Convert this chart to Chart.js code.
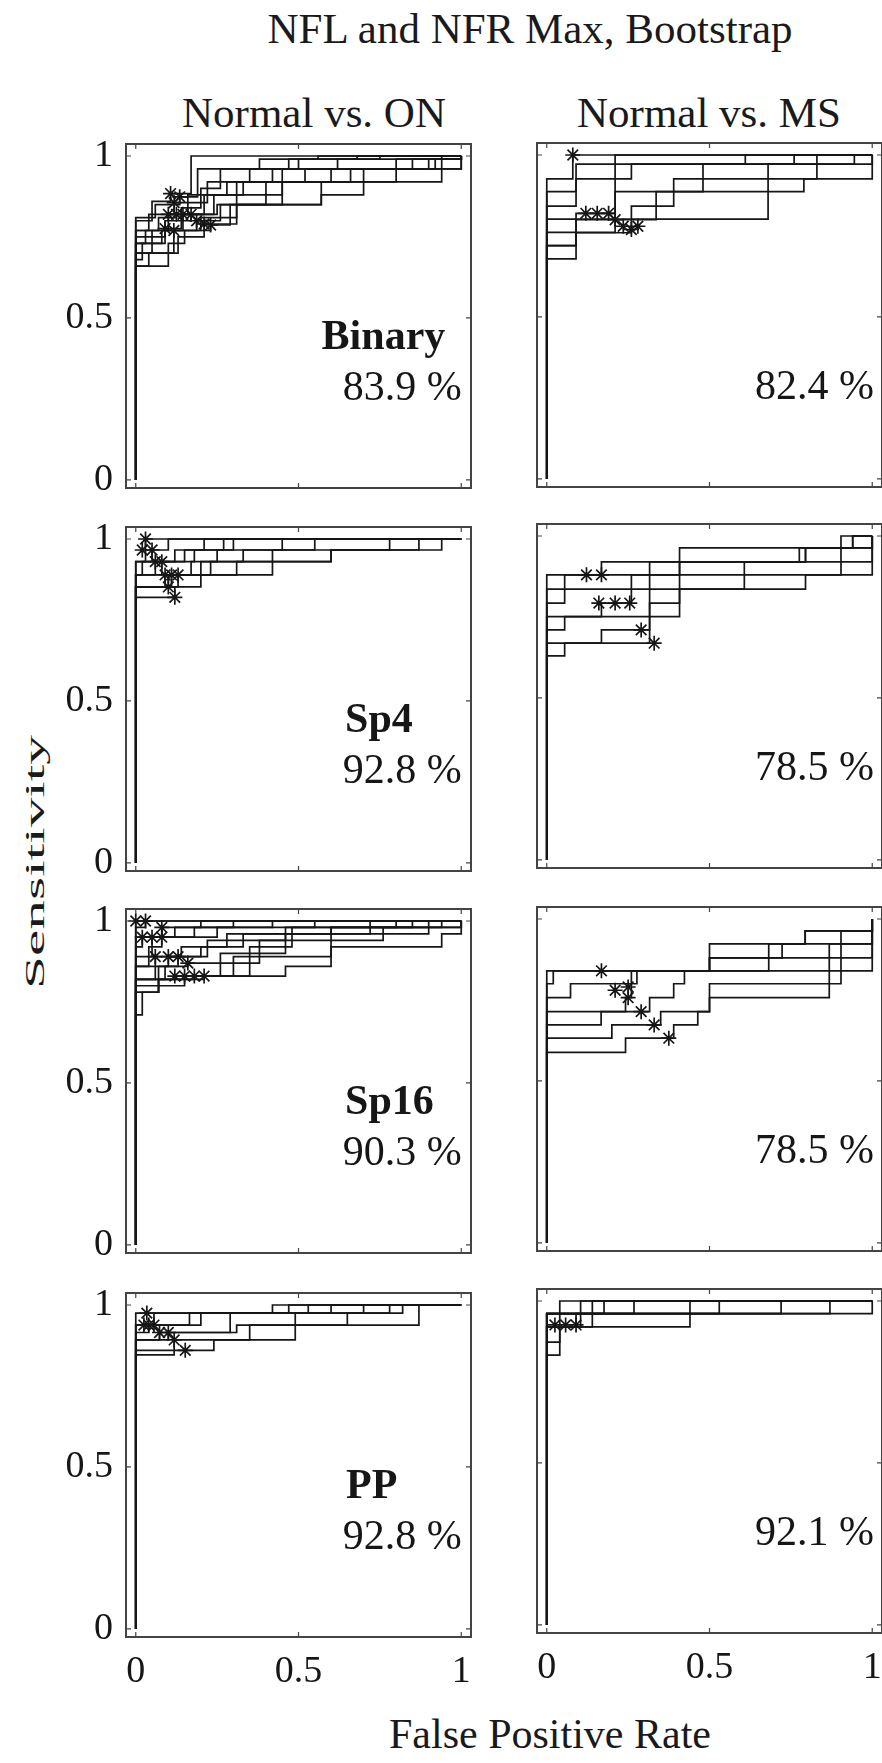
<!DOCTYPE html>
<html>
<head>
<meta charset="utf-8">
<script src="https://cdn.jsdelivr.net/npm/chart.js@4.4.1/dist/chart.umd.min.js"></script>
<style>
  html, body { margin: 0; padding: 0; background: #fff; width: 882px; height: 1763px; overflow: hidden; position: relative; }
  .txt { position: absolute; font-family: 'Liberation Serif', 'Times New Roman', serif; color: #1a1a1a; white-space: nowrap; line-height: 1; }
  canvas { position: absolute; }
</style>
</head>
<body>
<div class="txt" id="figTitle"></div>
<div class="txt" id="colTitle0"></div>
<div class="txt" id="colTitle1"></div>
<div class="txt" id="xLabel"></div>
<div class="txt" id="yLabel"></div>
<script>
// ---- tick values and labels ----
const xTickValues = [0, 0.5, 1];
const yTickValues = [0, 0.5, 1];
const figureTitle = 'NFL and NFR Max, Bootstrap';
const columnTitles = ['Normal vs. ON', 'Normal vs. MS'];
const xAxisTitle = 'False Positive Rate';
const yAxisTitle = 'Sensitivity';
const featureNames = ['Binary', 'Sp4', 'Sp16', 'PP'];
const accuracyON = [83.9, 92.8, 90.3, 92.8];
const accuracyMS = [82.4, 78.5, 78.5, 92.1];

// ---- bootstrap ROC curves: [false positive rate, sensitivity] after each step ----
// every curve starts at (0,0) and finishes at (1,1)
const curvesOnBinary = [
  [[0,0.80],[0.05,0.86],[0.107,0.884],[0.17,1.0]],
  [[0,0.77],[0.04,0.82],[0.118,0.856],[0.22,0.92],[0.35,0.96],[0.50,0.99],[0.75,1.0]],
  [[0,0.81],[0.06,0.85],[0.135,0.874],[0.19,0.96],[0.38,0.99],[0.56,1.0]],
  [[0,0.73],[0.03,0.77],[0.10,0.82],[0.16,0.88],[0.28,0.92],[0.45,0.96],[0.94,1.0]],
  [[0,0.77],[0.07,0.81],[0.125,0.82],[0.21,0.88],[0.31,0.92],[0.42,0.96],[0.62,0.99]],
  [[0,0.70],[0.05,0.77],[0.145,0.82],[0.25,0.85],[0.57,0.92],[0.94,0.96]],
  [[0,0.75],[0.09,0.80],[0.17,0.82],[0.24,0.88],[0.33,0.92],[0.52,0.96],[0.85,0.99]],
  [[0,0.73],[0.08,0.77],[0.187,0.80],[0.26,0.85],[0.57,0.88],[0.70,0.96]],
  [[0,0.70],[0.13,0.75],[0.21,0.79],[0.31,0.88],[0.45,0.92],[0.66,0.96],[0.90,0.99]],
  [[0,0.66],[0.10,0.73],[0.15,0.77],[0.23,0.787],[0.29,0.85],[0.40,0.92],[0.60,0.96],[0.80,0.99]],
  [[0,0.68],[0.02,0.73],[0.09,0.776],[0.14,0.84],[0.20,0.90],[0.26,0.96],[0.47,0.99],[0.68,1.0]],
  [[0,0.66],[0.04,0.70],[0.117,0.77],[0.20,0.81],[0.31,0.85],[0.45,0.92],[0.80,0.96],[0.92,0.99]]
];
const starsOnBinary = [[0.107,0.884],[0.118,0.856],[0.135,0.874],[0.10,0.82],[0.125,0.82],[0.145,0.82],
  [0.17,0.82],[0.187,0.80],[0.21,0.79],[0.23,0.787],[0.09,0.776],[0.117,0.77]];

const curvesMsBinary = [
  [[0,0.926],[0.08,1.0]],
  [[0,0.887],[0.09,0.972],[0.76,1.0]],
  [[0,0.842],[0.09,0.926],[0.26,0.972],[0.61,1.0]],
  [[0,0.802],[0.09,0.82],[0.21,0.887],[0.39,0.926],[0.83,1.0]],
  [[0,0.679],[0.09,0.761],[0.21,1.0]],
  [[0,0.761],[0.09,0.802],[0.68,0.972]],
  [[0,0.72],[0.09,0.76],[0.26,0.80],[0.336,0.887],[0.79,0.926]],
  [[0,0.72],[0.09,0.80],[0.26,0.842],[0.39,0.887],[0.48,0.972],[0.945,1.0]]
];
const starsMsBinary = [[0.08,1.0],[0.12,0.82],[0.155,0.82],[0.19,0.82],[0.21,0.80],[0.235,0.78],[0.26,0.77],[0.28,0.78]];

const curvesOnSp4 = [
  [[0,0.93],[0.03,1.0]],
  [[0,0.93],[0.05,0.966],[0.10,1.0]],
  [[0,0.889],[0.06,0.93],[0.15,0.966],[0.27,1.0]],
  [[0,0.889],[0.08,0.93],[0.18,0.966],[0.30,1.0]],
  [[0,0.852],[0.10,0.889],[0.20,0.93],[0.25,0.966],[0.45,1.0]],
  [[0,0.852],[0.09,0.889],[0.17,0.93],[0.33,0.966],[0.55,1.0]],
  [[0,0.82],[0.12,0.852],[0.20,0.889],[0.42,0.93],[0.60,0.966],[0.78,1.0]],
  [[0,0.852],[0.11,0.889],[0.23,0.93],[0.60,0.966],[0.87,1.0]],
  [[0,0.889],[0.02,0.93],[0.12,0.966],[0.21,1.0]],
  [[0,0.852],[0.13,0.889],[0.31,0.93],[0.42,0.966],[0.94,1.0]]
];
const starsOnSp4 = [[0.03,1.0],[0.02,0.966],[0.05,0.966],[0.06,0.93],[0.08,0.93],[0.09,0.889],
  [0.11,0.889],[0.13,0.889],[0.10,0.852],[0.12,0.82]];

const curvesMsSp4 = [
  [[0,0.88],[0.408,0.963],[0.904,1.0]],
  [[0,0.836],[0.055,0.88],[0.168,0.92],[0.776,0.963],[0.94,1.0]],
  [[0,0.793],[0.055,0.836],[0.26,0.88],[0.607,0.92],[0.795,0.963]],
  [[0,0.751],[0.168,0.793],[0.26,0.836],[0.607,0.88],[0.904,0.963]],
  [[0,0.71],[0.055,0.751],[0.316,0.793],[0.408,0.92],[0.795,0.963],[0.94,1.0]],
  [[0,0.669],[0.168,0.71],[0.316,0.751],[0.408,0.836],[0.795,0.88]],
  [[0,0.63],[0.055,0.669],[0.316,0.92]]
];
const starsMsSp4 = [[0.122,0.88],[0.168,0.88],[0.16,0.793],[0.21,0.793],[0.255,0.793],[0.29,0.71],[0.33,0.669]];

const curvesOnSp16 = [
  [[0,1.0]],
  [[0,0.98],[0.03,1.0]],
  [[0,0.95],[0.08,0.98],[0.20,1.0]],
  [[0,0.92],[0.02,0.95],[0.12,0.98],[0.30,1.0]],
  [[0,0.89],[0.05,0.95],[0.18,0.98],[0.42,1.0]],
  [[0,0.86],[0.04,0.92],[0.08,0.95],[0.25,0.98],[0.55,1.0]],
  [[0,0.82],[0.06,0.89],[0.14,0.92],[0.28,0.96],[0.60,0.98],[0.85,1.0]],
  [[0,0.78],[0.07,0.86],[0.10,0.89],[0.22,0.94],[0.46,0.98],[0.94,1.0]],
  [[0,0.86],[0.13,0.89],[0.20,0.92],[0.33,0.96],[0.72,1.0]],
  [[0,0.82],[0.09,0.86],[0.16,0.87],[0.38,0.94],[0.60,0.98]],
  [[0,0.71],[0.02,0.78],[0.07,0.82],[0.12,0.83],[0.26,0.90],[0.46,0.96],[0.90,1.0]],
  [[0,0.80],[0.15,0.83],[0.35,0.92],[0.48,0.98],[0.80,1.0]],
  [[0,0.82],[0.18,0.83],[0.30,0.89],[0.60,0.94],[0.76,0.98]],
  [[0,0.78],[0.07,0.82],[0.21,0.83],[0.46,0.86],[0.60,0.92],[0.94,0.96]]
];
const starsOnSp16 = [[0,1.0],[0.03,1.0],[0.08,0.98],[0.02,0.95],[0.05,0.95],[0.08,0.95],[0.06,0.89],
  [0.10,0.89],[0.13,0.89],[0.16,0.87],[0.12,0.83],[0.15,0.83],[0.18,0.83],[0.21,0.83]];

const curvesMsSp16 = [
  [[0,0.84]],
  [[0,0.80],[0.02,0.84],[0.50,0.923],[0.794,0.963]],
  [[0,0.757],[0.073,0.80],[0.277,0.84],[0.50,0.88]],
  [[0,0.714],[0.242,0.757],[0.26,0.84],[0.50,0.88],[0.723,0.923]],
  [[0,0.673],[0.167,0.714],[0.316,0.757],[0.39,0.80],[0.423,0.84],[0.682,0.923],[0.794,0.963]],
  [[0,0.632],[0.20,0.673],[0.35,0.714],[0.50,0.757],[0.868,0.923]],
  [[0,0.588],[0.242,0.632],[0.39,0.673],[0.464,0.714],[0.50,0.80],[0.904,0.963]]
];
const starsMsSp16 = [[0.168,0.84],[0.21,0.78],[0.25,0.79],[0.25,0.757],[0.29,0.714],[0.33,0.673],[0.375,0.632]];

const curvesOnPP = [
  [[0,0.975],[0.42,1.0]],
  [[0,0.938],[0.056,0.975],[0.53,1.0]],
  [[0,0.938],[0.165,0.975],[0.60,1.0]],
  [[0,0.892],[0.073,0.915],[0.29,0.975],[0.70,1.0]],
  [[0,0.892],[0.10,0.915],[0.31,0.938],[0.49,0.975],[0.78,1.0]],
  [[0,0.846],[0.118,0.892],[0.35,0.938],[0.65,0.975],[0.82,1.0]],
  [[0,0.86],[0.24,0.892],[0.49,0.938],[0.87,1.0]],
  [[0,0.915],[0.04,0.938],[0.20,0.975],[0.47,1.0]]
];
const starsOnPP = [[0.034,0.975],[0.025,0.938],[0.056,0.938],[0.073,0.915],[0.10,0.915],[0.118,0.892],[0.152,0.86],[0.04,0.938]];

const curvesMsPP = [
  [[0,0.833],[0.04,1.0]],
  [[0,0.873],[0.04,0.92],[0.104,1.0]],
  [[0,0.92],[0.14,1.0]],
  [[0,0.92],[0.44,1.0]],
  [[0,0.961]],
  [[0,0.92],[0.09,0.961],[0.72,1.0]],
  [[0,0.961],[0.268,1.0]],
  [[0,0.961],[0.176,1.0]],
  [[0,0.961],[0.53,1.0]],
  [[0,0.961],[0.87,1.0]]
];
const starsMsPP = [[0.025,0.926],[0.058,0.926],[0.09,0.926]];

// ---- drawing ----
const SERIF = "'Liberation Serif', 'Times New Roman', serif";
const INK = '#161616';
const X_RANGE = [-0.03, 1.03];
const Y_RANGE = [-0.025, 1.037];

// page text
function placeText(id, text, size, left, top, transform) {
  const el = document.getElementById(id);
  el.textContent = text;
  el.style.fontSize = size + 'px';
  el.style.left = left + 'px';
  el.style.top = top + 'px';
  if (transform) el.style.transform = transform;
}
placeText('figTitle', figureTitle, 43, 530, 7, 'translateX(-50%)');
placeText('colTitle0', columnTitles[0], 43, 314, 91, 'translateX(-50%)');
placeText('colTitle1', columnTitles[1], 43, 709, 91, 'translateX(-50%)');
placeText('xLabel', xAxisTitle, 42, 550, 1713, 'translateX(-50%)');
placeText('yLabel', yAxisTitle, 27, 35, 862, 'translate(-50%,-50%) rotate(-90deg) scaleX(2.2)');

// frame, inward ticks and the in-panel caption
const panelFrame = {
  id: 'panelFrame',
  afterDatasetsDraw(chart, args, opts) {
    const { ctx, chartArea: a, scales: { x, y } } = chart;
    ctx.save();
    ctx.strokeStyle = '#444';
    ctx.lineWidth = 2;
    ctx.strokeRect(a.left, a.top, a.width, a.height);
    ctx.lineWidth = 1.2;
    ctx.beginPath();
    xTickValues.forEach(v => {
      const px = x.getPixelForValue(v);
      ctx.moveTo(px, a.bottom); ctx.lineTo(px, a.bottom - 5);
      ctx.moveTo(px, a.top); ctx.lineTo(px, a.top + 5);
    });
    yTickValues.forEach(v => {
      const py = y.getPixelForValue(v);
      ctx.moveTo(a.left, py); ctx.lineTo(a.left + 5, py);
      ctx.moveTo(a.right, py); ctx.lineTo(a.right - 5, py);
    });
    ctx.stroke();
    ctx.fillStyle = INK;
    ctx.textAlign = 'left';
    ctx.textBaseline = 'alphabetic';
    (opts.lines || []).forEach(l => {
      ctx.font = (l.bold ? 'bold ' : '') + '42px ' + SERIF;
      ctx.fillText(l.text, x.getPixelForValue(l.x), y.getPixelForValue(l.y));
    });
    ctx.restore();
  }
};

const colLeft = [126, 537];
const rowTop = [[144, 527, 909, 1293], [143, 524, 907, 1289]];
const BOX_W = 345, BOX_H = 344;
const nameX = [0.571, 0.643, 0.643, 0.646];

const panels = [
  { curves: curvesOnBinary, stars: starsOnBinary, col: 0, row: 0 },
  { curves: curvesMsBinary, stars: starsMsBinary, col: 1, row: 0 },
  { curves: curvesOnSp4,    stars: starsOnSp4,    col: 0, row: 1 },
  { curves: curvesMsSp4,    stars: starsMsSp4,    col: 1, row: 1 },
  { curves: curvesOnSp16,   stars: starsOnSp16,   col: 0, row: 2 },
  { curves: curvesMsSp16,   stars: starsMsSp16,   col: 1, row: 2 },
  { curves: curvesOnPP,     stars: starsOnPP,     col: 0, row: 3 },
  { curves: curvesMsPP,     stars: starsMsPP,     col: 1, row: 3 }
];

panels.forEach(p => {
  const showY = p.col === 0;
  const showX = p.row === 3;
  const yW = showY ? 80 : 0;
  const xH = showX ? 62 : 0;
  const pad = { top: 45, bottom: showX ? 10 : 45, left: 20, right: 40 };
  const W = pad.left + yW + BOX_W + pad.right;
  const H = pad.top + BOX_H + xH + pad.bottom;
  const c = document.createElement('canvas');
  c.width = W; c.height = H;
  c.style.width = W + 'px'; c.style.height = H + 'px';
  c.style.left = (colLeft[p.col] - yW - pad.left) + 'px';
  c.style.top = (rowTop[p.col][p.row] - pad.top) + 'px';
  document.body.appendChild(c);

  const acc = p.col === 0 ? accuracyON[p.row] : accuracyMS[p.row];
  const lines = [];
  if (p.col === 0) lines.push({ text: featureNames[p.row], x: nameX[p.row], y: 0.405, bold: true });
  lines.push({ text: acc.toFixed(1) + ' %', x: p.col === 0 ? 0.636 : 0.64, y: 0.248, bold: false });

  const datasets = [{
    data: p.stars.map(([x, y]) => ({ x, y })),
    showLine: false,
    pointStyle: 'star',
    pointRadius: 7.5,
    pointBorderWidth: 1.7,
    pointBorderColor: INK,
    pointBackgroundColor: INK,
    borderColor: INK,
    order: 0
  }];
  p.curves.forEach(cv => {
    const last = cv[cv.length - 1][1];
    const pts = [[0, 0], ...cv, [1, last], [1, 1]];
    datasets.push({
      data: pts.map(([x, y]) => ({ x, y })),
      stepped: true,
      borderColor: INK,
      borderWidth: 1.7,
      pointRadius: 0,
      fill: false,
      tension: 0,
      order: 1
    });
  });

  const tickFont = { family: SERIF, size: 38 };
  const tickText = v => String(v);
  new Chart(c, {
    type: 'line',
    data: { datasets },
    plugins: [panelFrame],
    options: {
      responsive: false,
      animation: false,
      devicePixelRatio: 1,
      layout: { padding: pad },
      events: [],
      plugins: {
        legend: { display: false },
        tooltip: { enabled: false },
        panelFrame: { lines }
      },
      scales: {
        x: {
          type: 'linear', min: X_RANGE[0], max: X_RANGE[1],
          grid: { display: false, drawTicks: false },
          border: { display: false },
          afterBuildTicks: s => { s.ticks = xTickValues.map(v => ({ value: v })); },
          afterFit: s => { s.height = xH; },
          ticks: { display: showX, padding: 12, font: tickFont, color: INK, maxRotation: 0, autoSkip: false, callback: tickText }
        },
        y: {
          type: 'linear', min: Y_RANGE[0], max: Y_RANGE[1],
          grid: { display: false, drawTicks: false },
          border: { display: false },
          afterBuildTicks: s => { s.ticks = yTickValues.map(v => ({ value: v })); },
          afterFit: s => { s.width = yW; },
          ticks: { display: showY, padding: 13, font: tickFont, color: INK, autoSkip: false, callback: tickText }
        }
      }
    }
  });
});
</script>
</body>
</html>
